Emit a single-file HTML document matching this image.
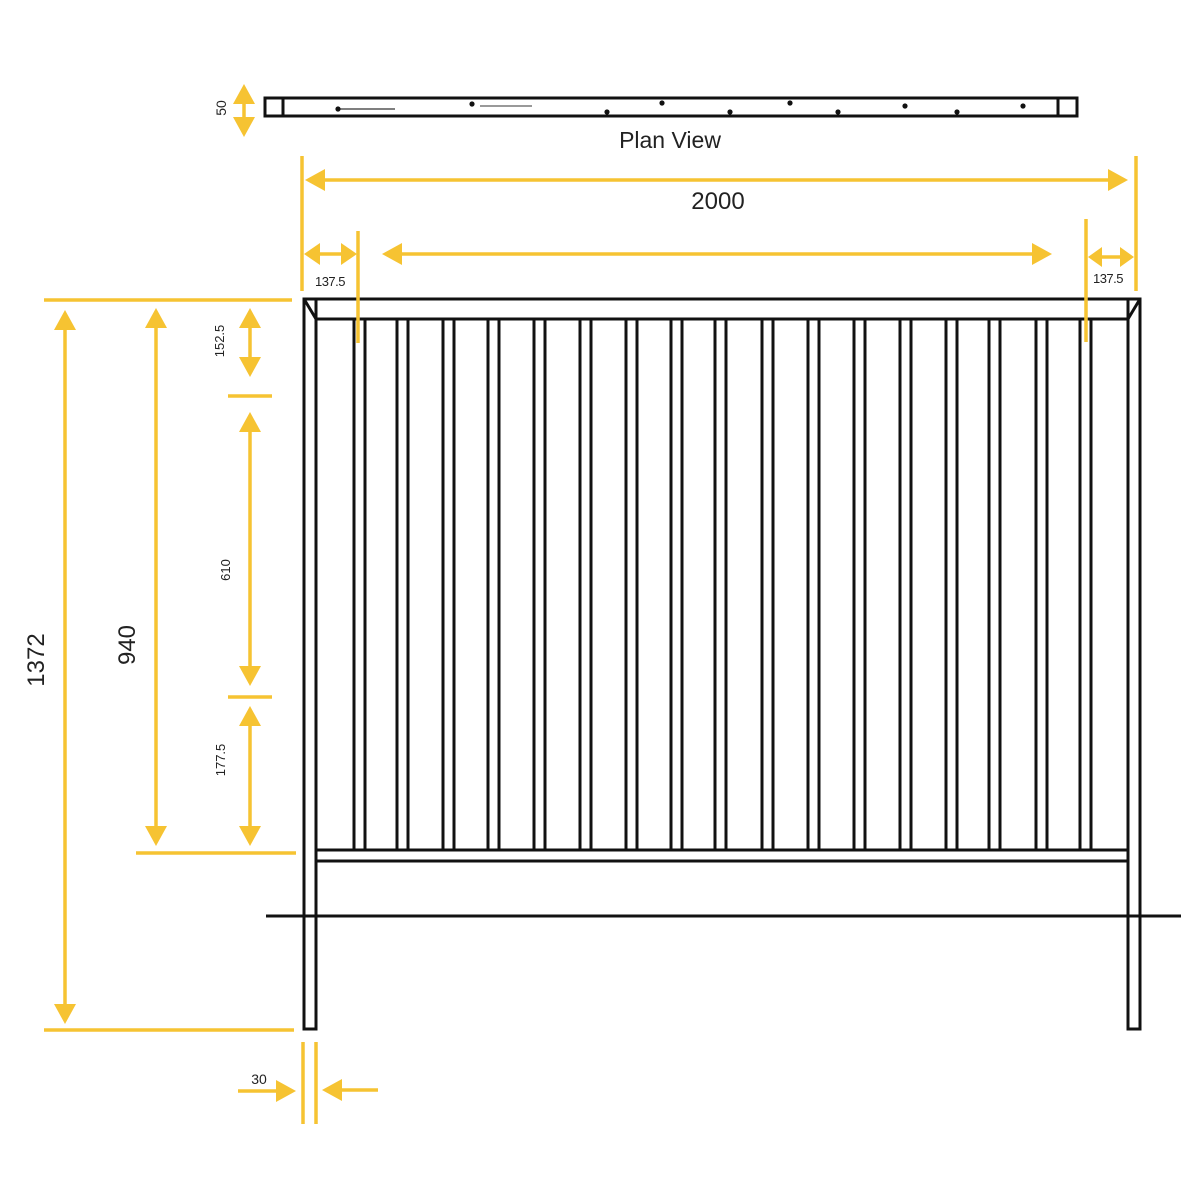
<!DOCTYPE html>
<html><head><meta charset="utf-8"><style>
html,body{margin:0;padding:0;background:#fff;}
svg{display:block;}
text{font-family:"Liberation Sans",sans-serif;fill:#222;}
</style></head><body>
<svg width="1200" height="1200" viewBox="0 0 1200 1200" xmlns="http://www.w3.org/2000/svg">
<g stroke="#111" stroke-width="3" fill="none">
  <!-- plan view -->
  <rect x="265" y="98" width="812" height="18" fill="#fff"/>
  <line x1="283" y1="98" x2="283" y2="116"/>
  <line x1="1058" y1="98" x2="1058" y2="116"/>
</g>
<g stroke="#555" stroke-width="1.5">
  <line x1="340" y1="109" x2="395" y2="109"/>
</g>
<g stroke="#999" stroke-width="2">
  <line x1="480" y1="106" x2="532" y2="106"/>
</g>
<g fill="#111">
  <circle cx="338" cy="109" r="2.6"/><circle cx="472" cy="104" r="2.6"/>
  <circle cx="607" cy="112" r="2.6"/><circle cx="662" cy="103" r="2.6"/>
  <circle cx="730" cy="112" r="2.6"/><circle cx="790" cy="103" r="2.6"/>
  <circle cx="838" cy="112" r="2.6"/><circle cx="905" cy="106" r="2.6"/>
  <circle cx="957" cy="112" r="2.6"/><circle cx="1023" cy="106" r="2.6"/>
</g>
<text x="670" y="148" font-size="23" text-anchor="middle">Plan View</text>

<!-- fence -->
<g stroke="#111" stroke-width="3" fill="#fff">
  <rect x="304" y="299" width="836" height="20"/>
  <rect x="304" y="299" width="12" height="730"/>
  <rect x="1128" y="299" width="12" height="730"/>
  <rect x="316" y="850" width="812" height="11"/>
  <rect x="354" y="319" width="11" height="531"/>
  <rect x="397" y="319" width="11" height="531"/>
  <rect x="443" y="319" width="11" height="531"/>
  <rect x="488" y="319" width="11" height="531"/>
  <rect x="534" y="319" width="11" height="531"/>
  <rect x="580" y="319" width="11" height="531"/>
  <rect x="626" y="319" width="11" height="531"/>
  <rect x="671" y="319" width="11" height="531"/>
  <rect x="715" y="319" width="11" height="531"/>
  <rect x="762" y="319" width="11" height="531"/>
  <rect x="808" y="319" width="11" height="531"/>
  <rect x="854" y="319" width="11" height="531"/>
  <rect x="900" y="319" width="11" height="531"/>
  <rect x="946" y="319" width="11" height="531"/>
  <rect x="989" y="319" width="11" height="531"/>
  <rect x="1036" y="319" width="11" height="531"/>
  <rect x="1080" y="319" width="11" height="531"/>
</g>
<g stroke="#111" stroke-width="3">
  <line x1="304" y1="299" x2="316" y2="319"/>
  <line x1="1140" y1="299" x2="1128" y2="319"/>
  <line x1="266" y1="916" x2="1181" y2="916"/>
</g>

<!-- yellow dimensions -->
<g stroke="#F6C332" stroke-width="3.5" fill="none">
  <!-- 50 -->
  <line x1="244" y1="95" x2="244" y2="126"/>
  <!-- extension lines -->
  <line x1="302" y1="156" x2="302" y2="291"/>
  <line x1="1136" y1="156" x2="1136" y2="291"/>
  <line x1="358" y1="231" x2="358" y2="343"/>
  <line x1="1086" y1="219" x2="1086" y2="342"/>
  <!-- 2000 -->
  <line x1="320" y1="180" x2="1110" y2="180"/>
  <!-- middle -->
  <line x1="398" y1="254" x2="1036" y2="254"/>
  <!-- 137.5 -->
  <line x1="316" y1="254" x2="345" y2="254"/>
  <line x1="1098" y1="257" x2="1124" y2="257"/>
  <!-- horizontal ext -->
  <line x1="44" y1="300" x2="292" y2="300"/>
  <line x1="136" y1="853" x2="296" y2="853"/>
  <line x1="44" y1="1030" x2="294" y2="1030"/>
  <line x1="228" y1="396" x2="272" y2="396"/>
  <line x1="228" y1="697" x2="272" y2="697"/>
  <!-- verticals -->
  <line x1="65" y1="325" x2="65" y2="1008"/>
  <line x1="156" y1="322" x2="156" y2="832"/>
  <line x1="250" y1="322" x2="250" y2="362"/>
  <line x1="250" y1="428" x2="250" y2="670"/>
  <line x1="250" y1="722" x2="250" y2="832"/>
  <!-- 30 -->
  <line x1="303" y1="1042" x2="303" y2="1124"/>
  <line x1="316" y1="1042" x2="316" y2="1124"/>
  <line x1="238" y1="1091" x2="280" y2="1091"/>
  <line x1="338" y1="1090" x2="378" y2="1090"/>
</g>
<g fill="#F6C332">
  <!-- 50 -->
  <polygon points="244,84 233,104 255,104"/>
  <polygon points="244,137 233,117 255,117"/>
  <!-- 2000 -->
  <polygon points="305,180 325,169 325,191"/>
  <polygon points="1128,180 1108,169 1108,191"/>
  <!-- middle -->
  <polygon points="382,254 402,243 402,265"/>
  <polygon points="1052,254 1032,243 1032,265"/>
  <!-- 137.5 left -->
  <polygon points="304,254 320,243 320,265"/>
  <polygon points="357,254 341,243 341,265"/>
  <!-- 137.5 right -->
  <polygon points="1088,257 1102,247 1102,267"/>
  <polygon points="1134,257 1120,247 1120,267"/>
  <!-- 1372 -->
  <polygon points="65,310 54,330 76,330"/>
  <polygon points="65,1024 54,1004 76,1004"/>
  <!-- 940 -->
  <polygon points="156,308 145,328 167,328"/>
  <polygon points="156,846 145,826 167,826"/>
  <!-- 152.5 -->
  <polygon points="250,308 239,328 261,328"/>
  <polygon points="250,377 239,357 261,357"/>
  <!-- 610 -->
  <polygon points="250,412 239,432 261,432"/>
  <polygon points="250,686 239,666 261,666"/>
  <!-- 177.5 -->
  <polygon points="250,706 239,726 261,726"/>
  <polygon points="250,846 239,826 261,826"/>
  <!-- 30 -->
  <polygon points="296,1091 276,1080 276,1102"/>
  <polygon points="322,1090 342,1079 342,1101"/>
</g>

<!-- labels -->
<text x="718" y="209" font-size="24" text-anchor="middle">2000</text>
<text x="330" y="286" font-size="13" text-anchor="middle" letter-spacing="-0.5">137.5</text>
<text x="1108" y="283" font-size="13" text-anchor="middle" letter-spacing="-0.5">137.5</text>
<text x="259" y="1084" font-size="14" text-anchor="middle">30</text>
<text transform="translate(226,108) rotate(-90)" font-size="14" text-anchor="middle">50</text>
<text transform="translate(44,660) rotate(-90)" font-size="24" text-anchor="middle">1372</text>
<text transform="translate(135,645) rotate(-90)" font-size="24" text-anchor="middle">940</text>
<text transform="translate(224,341) rotate(-90)" font-size="13" text-anchor="middle">152.5</text>
<text transform="translate(230,570) rotate(-90)" font-size="13" text-anchor="middle">610</text>
<text transform="translate(225,760) rotate(-90)" font-size="13" text-anchor="middle">177.5</text>
</svg>
</body></html>
